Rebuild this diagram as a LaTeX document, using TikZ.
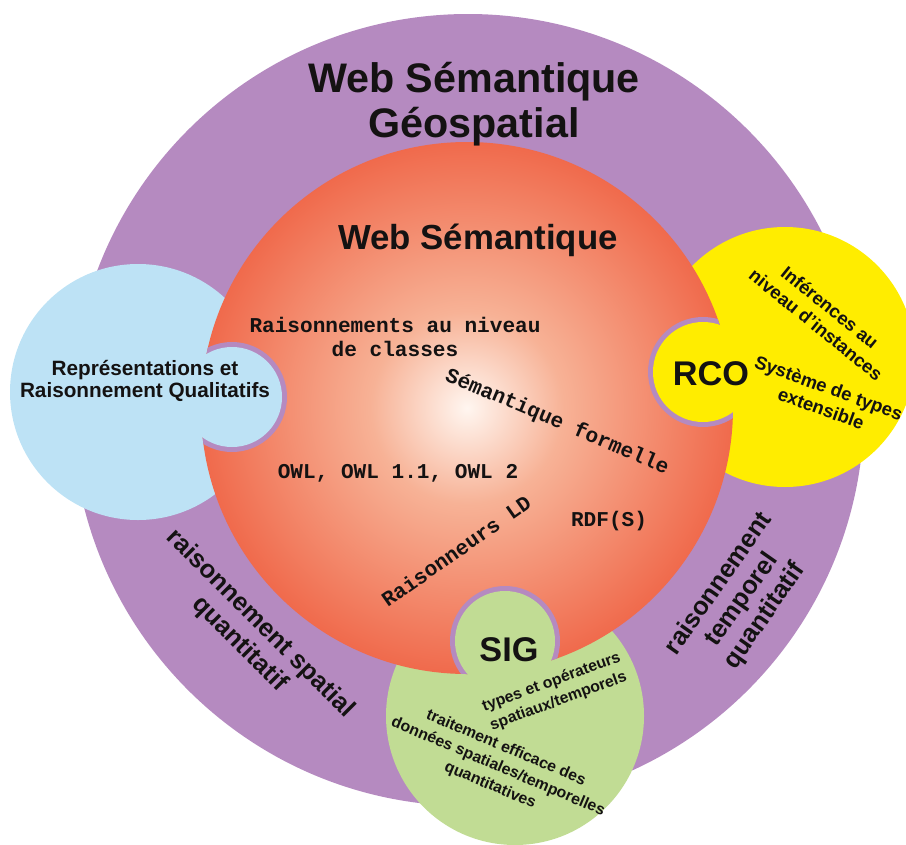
\documentclass[tikz,border=0pt]{standalone}
\usepackage{fontspec}
\setmainfont{Liberation Sans}
\setsansfont{Liberation Sans}
\setmonofont{Liberation Mono}
\usetikzlibrary{positioning}
\definecolor{wsgPurple}{RGB}{181,138,192}
\definecolor{wsgBlue}{RGB}{189,226,245}
\definecolor{wsgYellow}{RGB}{255,237,0}
\definecolor{wsgGreen}{RGB}{193,220,148}
\definecolor{wsgOrange}{RGB}{240,106,76}
\definecolor{wsgSalmon}{RGB}{247,178,150}
\definecolor{wsgCore}{RGB}{255,246,240}
\definecolor{wsgInk}{RGB}{20,18,18}
\pgfdeclareradialshading{wsgball}{\pgfpoint{0bp}{0bp}}{%
  color(0bp)=(wsgCore); color(9bp)=(wsgSalmon);
  color(25bp)=(wsgOrange); color(50bp)=(wsgOrange)}

\begin{document}
\begin{tikzpicture}[
  x=0.02cm, y=-0.02cm,
  every node/.style={text=wsgInk, inner sep=1pt},
  titletxt/.style={font=\bfseries\fontsize{23.5}{26}\selectfont, align=center},
  coretxt/.style={font=\bfseries\fontsize{19.8}{22}\selectfont},
  bigtxt/.style={font=\bfseries\fontsize{19.5}{22}\selectfont},
  sidetxt/.style={font=\bfseries\fontsize{11.8}{13}\selectfont, align=center},
  rcotxt/.style={font=\bfseries\fontsize{10.5}{12.6}\selectfont, align=center},
  sigtxt/.style={font=\bfseries\fontsize{9}{11.5}\selectfont, align=center},
  ringtxt/.style={font=\bfseries\fontsize{14.5}{16}\selectfont, align=center},
  monotxt/.style={font=\ttfamily\bfseries\fontsize{12}{13.6}\selectfont, align=center}
]
\clip (0,0) rectangle (906,845);

% outer ring
\fill[wsgPurple] (468,410) circle (396);

% side discs
\fill[wsgBlue] (138,392) circle (128);
\fill[wsgYellow] (785,357) circle (130);
\fill[wsgGreen] (515,716) circle (129);

% semantic web core
\shade[shading=wsgball] (467,408) circle (266);

% bumps into the core, rimmed where they bite it
\begin{scope}
  \clip (467,408) circle (266);
  \foreach \bx/\by in {232/397,703/372,505/641}
    \fill[wsgPurple] (\bx,\by) circle (55);
\end{scope}
\foreach \bx/\by/\bc in {232/397/wsgBlue,703/372/wsgYellow,505/641/wsgGreen}
  \fill[\bc] (\bx,\by) circle (50);

% titles
\node[titletxt] (geo) at (474,104) {Web Sémantique\\Géospatial};
\node[coretxt] (sem) at (478,240) {Web Sémantique};

% blue disc
\node[sidetxt] (qual) at (145,381) {Représentations et\\Raisonnement Qualitatifs};

% yellow disc
\node[bigtxt] (rco) at (711,374) {RCO};
\node[rcotxt, rotate=-39] (inst) at (823,316) {Inférences au\\niveau d'instances};
\node[rcotxt, rotate=-20] (types) at (825,398) {Système de types\\extensible};

% green disc
\node[bigtxt] (sig) at (509,650) {SIG};
\node[sigtxt, rotate=20] (ops) at (555,692) {types et opérateurs\\spatiaux/temporels};
\node[sigtxt, rotate=-23] (trait) at (498,767)
  {traitement efficace des\\données spatiales/temporelles\\quantitatives};

% ring labels
\node[ringtxt, rotate=-45] (spat) at (250,634) {raisonnement spatial\\quantitatif};
\node[ringtxt, rotate=55] (temp) at (742,600) {raisonnement\\temporel\\quantitatif};

% core labels
\node[monotxt] (cls) at (395,337) {Raisonnements au niveau\\de classes};
\node[monotxt, rotate=-23] (form) at (557,422) {Sémantique formelle};
\node[monotxt] (owl) at (398,473) {OWL, OWL 1.1, OWL 2};
\node[monotxt, rotate=35] (ld) at (456,551) {Raisonneurs LD};
\node[monotxt] (rdf) at (609,521) {RDF(S)};

\end{tikzpicture}
\end{document}
